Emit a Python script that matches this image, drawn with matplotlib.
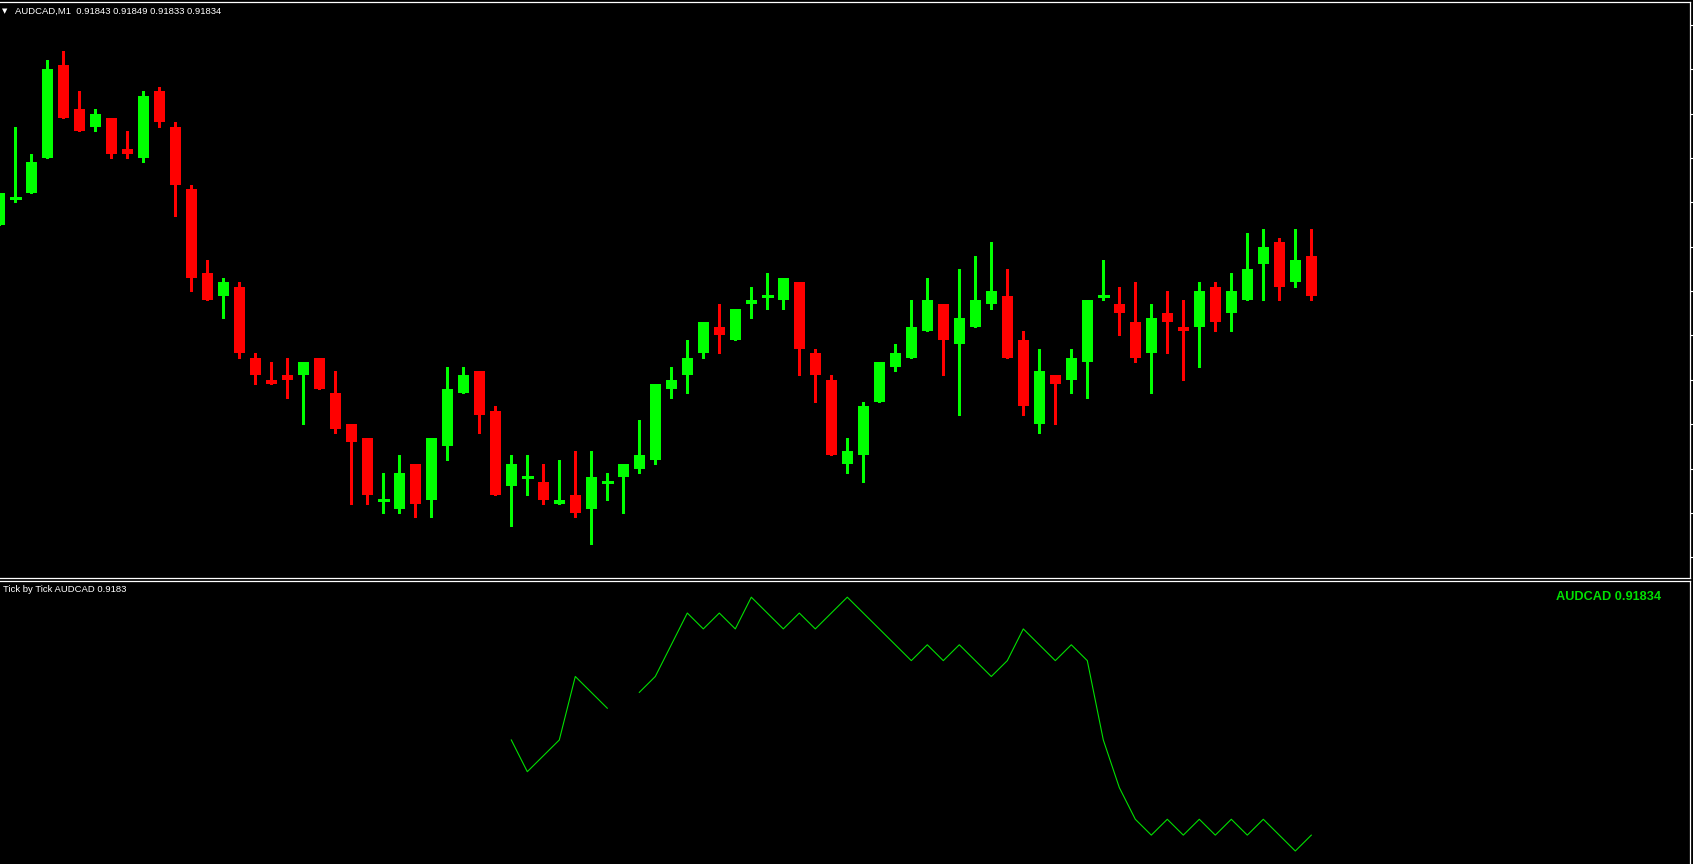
import numpy as np
import matplotlib
matplotlib.use("Agg")
import matplotlib.pyplot as plt

# ---------------- data (AUDCAD M1) ----------------
bar_index = list(range(-1, 82))
opens = [0.91850, 0.91856, 0.91857, 0.91865, 0.91886, 0.91876, 0.91872, 0.91874, 0.91867, 0.91865,
         0.91880, 0.91872, 0.91858, 0.91839, 0.91834, 0.91836, 0.91820, 0.91815, 0.91816, 0.91816,
         0.91820, 0.91812, 0.91805, 0.91802, 0.91788, 0.91786, 0.91796, 0.91788, 0.91800, 0.91812,
         0.91817, 0.91808, 0.91791, 0.91793, 0.91792, 0.91787, 0.91789, 0.91786, 0.91792, 0.91793,
         0.91795, 0.91797, 0.91813, 0.91816, 0.91821, 0.91827, 0.91824, 0.91832, 0.91834, 0.91833,
         0.91837, 0.91821, 0.91815, 0.91796, 0.91798, 0.91810, 0.91818, 0.91820, 0.91826, 0.91832,
         0.91823, 0.91827, 0.91832, 0.91834, 0.91824, 0.91805, 0.91816, 0.91815, 0.91819, 0.91834,
         0.91832, 0.91828, 0.91821, 0.91830, 0.91827, 0.91827, 0.91836, 0.91830, 0.91833, 0.91841,
         0.91846, 0.91837, 0.91843]
highs = [0.91857, 0.91872, 0.91866, 0.91887, 0.91889, 0.91880, 0.91876, 0.91874, 0.91871, 0.91880,
         0.91881, 0.91873, 0.91859, 0.91842, 0.91838, 0.91837, 0.91821, 0.91819, 0.91820, 0.91819,
         0.91820, 0.91817, 0.91805, 0.91802, 0.91794, 0.91798, 0.91796, 0.91802, 0.91818, 0.91818,
         0.91817, 0.91809, 0.91798, 0.91798, 0.91796, 0.91797, 0.91799, 0.91799, 0.91794, 0.91796,
         0.91806, 0.91814, 0.91818, 0.91824, 0.91828, 0.91832, 0.91831, 0.91836, 0.91839, 0.91838,
         0.91837, 0.91822, 0.91816, 0.91802, 0.91810, 0.91819, 0.91823, 0.91833, 0.91838, 0.91832,
         0.91840, 0.91843, 0.91846, 0.91840, 0.91826, 0.91822, 0.91816, 0.91822, 0.91833, 0.91842,
         0.91836, 0.91837, 0.91832, 0.91835, 0.91833, 0.91837, 0.91837, 0.91839, 0.91848, 0.91849,
         0.91847, 0.91849, 0.91849]
lows = [0.91850, 0.91855, 0.91857, 0.91865, 0.91874, 0.91871, 0.91871, 0.91865, 0.91865, 0.91864,
        0.91872, 0.91852, 0.91835, 0.91833, 0.91829, 0.91820, 0.91814, 0.91814, 0.91811, 0.91805,
        0.91813, 0.91803, 0.91787, 0.91787, 0.91785, 0.91785, 0.91784, 0.91784, 0.91797, 0.91812,
        0.91803, 0.91789, 0.91782, 0.91789, 0.91787, 0.91787, 0.91784, 0.91778, 0.91788, 0.91785,
        0.91794, 0.91796, 0.91811, 0.91812, 0.91820, 0.91821, 0.91824, 0.91829, 0.91831, 0.91831,
        0.91816, 0.91810, 0.91798, 0.91794, 0.91792, 0.91810, 0.91817, 0.91820, 0.91826, 0.91816,
        0.91807, 0.91827, 0.91831, 0.91820, 0.91807, 0.91803, 0.91805, 0.91812, 0.91811, 0.91833,
        0.91825, 0.91819, 0.91812, 0.91821, 0.91815, 0.91818, 0.91826, 0.91826, 0.91833, 0.91833,
        0.91833, 0.91836, 0.91833]
closes = [0.91857, 0.91856, 0.91864, 0.91885, 0.91874, 0.91871, 0.91875, 0.91866, 0.91866, 0.91879,
          0.91873, 0.91859, 0.91838, 0.91833, 0.91837, 0.91821, 0.91816, 0.91814, 0.91815, 0.91819,
          0.91813, 0.91804, 0.91801, 0.91789, 0.91788, 0.91794, 0.91787, 0.91802, 0.91813, 0.91816,
          0.91807, 0.91789, 0.91796, 0.91793, 0.91788, 0.91788, 0.91785, 0.91793, 0.91792, 0.91796,
          0.91798, 0.91814, 0.91815, 0.91820, 0.91828, 0.91825, 0.91831, 0.91833, 0.91834, 0.91838,
          0.91822, 0.91816, 0.91798, 0.91799, 0.91809, 0.91819, 0.91821, 0.91827, 0.91833, 0.91824,
          0.91829, 0.91833, 0.91835, 0.91820, 0.91809, 0.91817, 0.91814, 0.91820, 0.91833, 0.91834,
          0.91830, 0.91820, 0.91829, 0.91828, 0.91826, 0.91835, 0.91828, 0.91835, 0.91840, 0.91845,
          0.91836, 0.91842, 0.91834]

# Tick by Tick indicator values (one per bar, from bar 31), NaN = gap
tick_start = 31
tick_values = [0.91840, 0.91838, 0.91839, 0.91840, 0.91844, 0.91843, 0.91842, np.nan, 0.91843, 0.91844,
               0.91846, 0.91848, 0.91847, 0.91848, 0.91847, 0.91849, 0.91848, 0.91847, 0.91848, 0.91847,
               0.91848, 0.91849, 0.91848, 0.91847, 0.91846, 0.91845, 0.91846, 0.91845, 0.91846, 0.91845,
               0.91844, 0.91845, 0.91847, 0.91846, 0.91845, 0.91846, 0.91845, 0.91840, 0.91837, 0.91835,
               0.91834, 0.91835, 0.91834, 0.91835, 0.91834, 0.91835, 0.91834, 0.91835, 0.91834, 0.91833,
               0.91834]

price_ticks = [0.91775, 0.91785, 0.91795, 0.91805, 0.91815, 0.91825, 0.91835,
               0.91845, 0.91855, 0.91865, 0.91875, 0.91885, 0.91895]

title_text = "AUDCAD,M1  0.91843 0.91849 0.91833 0.91834"
sub_title = "Tick by Tick AUDCAD 0.9183"
sub_label = "AUDCAD 0.91834"

# ---------------- styling ----------------
BULL = "#00FF00"
BEAR = "#FF0000"
W, H = 1693, 864
fig = plt.figure(figsize=(W / 100, H / 100), dpi=100, facecolor="black")

def fx(px):
    return px / W

def fy(py):
    return 1 - py / H

xlim = ((0 - 15.3) / 16, (1690 - 15.3) / 16)

ax = fig.add_axes([0, fy(578), fx(1690), (578 - 2) / H], facecolor="black")
ax2 = fig.add_axes([0, 0, fx(1690), (864 - 581) / H], facecolor="black")

idx = np.array(bar_index, dtype=float)
o = np.array(opens); h = np.array(highs); l = np.array(lows); c = np.array(closes)
doji = c == o
colors = np.where(c >= o, BULL, BEAR)

# wicks
ax.vlines(idx, l, h, colors=colors, linewidth=0.9, zorder=2, antialiased=False)
# bodies
bw = 0.69
body_bottom = np.minimum(o, c)
body_h = np.abs(c - o)
ax.bar(idx[~doji], body_h[~doji], bottom=body_bottom[~doji], width=bw,
       color=colors[~doji], edgecolor="none", zorder=3, antialiased=False)
ax.hlines(o[doji], idx[doji] - bw / 2, idx[doji] + bw / 2, colors=BULL,
          linewidth=0.9, zorder=3, antialiased=False)

ax.set_xlim(*xlim)
ax.set_ylim(0.9177035, 0.9190015)
ax.set_xticks([])
ax.yaxis.tick_right()
ax.set_yticks(price_ticks)
ax.tick_params(axis="y", direction="out", length=2.5, width=0.8, color="white",
               labelright=False, labelleft=False)
for side in ["top", "right", "bottom"]:
    ax.spines[side].set_color("white")
    ax.spines[side].set_linewidth(0.9)
ax.spines["left"].set_visible(False)

# lower panel: tick line
tx = np.arange(tick_start, tick_start + len(tick_values))
ax2.plot(tx, tick_values, color="#00E000", linewidth=0.8)
ax2.set_xlim(*xlim)
ax2.set_ylim(0.9183218, 0.9185002)
ax2.set_xticks([])
ax2.set_yticks([])
for side in ["top", "right"]:
    ax2.spines[side].set_color("white")
    ax2.spines[side].set_linewidth(0.9)
ax2.spines["left"].set_visible(False)
ax2.spines["bottom"].set_visible(False)

# texts
fig.text(fx(2), fy(11), "\u25BC", color="white", fontsize=5, va="center", ha="left",
         family="DejaVu Sans")
fig.text(fx(15), fy(11), title_text, color="white", fontsize=6.8, va="center", ha="left",
         family="Liberation Sans")
fig.text(fx(3.3), fy(589.5), sub_title, color="white", fontsize=6.8, va="center", ha="left",
         family="Liberation Sans")
fig.text(fx(1556), fy(597), sub_label, color="#00E000", fontsize=9.2, fontweight="bold",
         va="center", ha="left", family="Liberation Sans")

fig.savefig("out.png", dpi=100, facecolor="black")
